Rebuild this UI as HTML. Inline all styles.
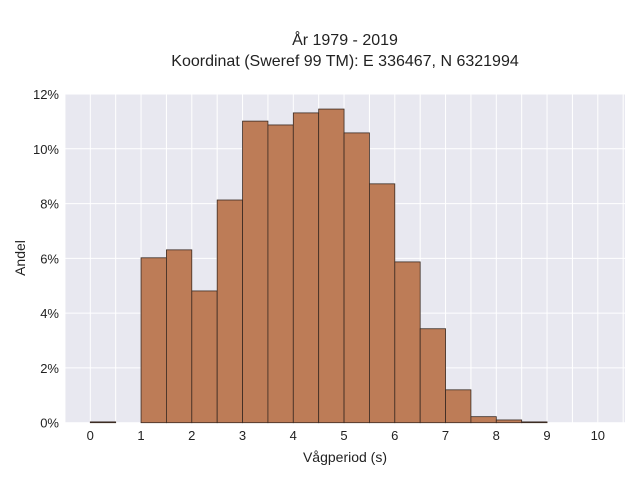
<!DOCTYPE html>
<html><head><meta charset="utf-8"><style>
body{margin:0;background:#fff;font-family:"Liberation Sans",sans-serif;}
</style></head><body>
<svg id="c" width="640" height="480" xmlns="http://www.w3.org/2000/svg">
<rect x="0" y="0" width="640" height="480" fill="#fff"/>
<text x="345" y="45" text-anchor="middle" font-size="16" fill="#222">År 1979 - 2019</text>
<text x="345" y="66" text-anchor="middle" font-size="16" fill="#222">Koordinat (Sweref 99 TM): E 336467, N 6321994</text>
<rect x="65" y="94" width="560" height="329" fill="#e8e8f0"/>
<g id="grid"></g><g id="bars"></g><g id="ticks"></g>
<text x="345" y="462" text-anchor="middle" font-size="14" fill="#222">Vågperiod (s)</text>
<text transform="translate(25,258) rotate(-90)" text-anchor="middle" font-size="14" fill="#222">Andel</text>
</svg>
<script>
const binStarts=[0,0.5,1,1.5,2,2.5,3,3.5,4,4.5,5,5.5,6,6.5,7,7.5,8,8.5,9,9.5];
const binValues=[0.03,0,6.02,6.31,4.81,8.13,11.01,10.87,11.31,11.45,10.58,8.72,5.87,3.43,1.2,0.22,0.1,0.03,0,0];
const xTicks=[0,1,2,3,4,5,6,7,8,9,10];
const yTicks=[0,2,4,6,8,10,12];
const binWidth=0.5;
const NS="http://www.w3.org/2000/svg";
const x=v=>90.3+v*50.75;
const y=v=>422.7-v*(328.7/12);
const grid=document.getElementById('grid'),bars=document.getElementById('bars'),ticks=document.getElementById('ticks');
function mk(tag,attrs,parent){const e=document.createElementNS(NS,tag);for(const k in attrs)e.setAttribute(k,attrs[k]);parent.appendChild(e);return e;}
for(let v=-0.5;v<=10.51;v+=0.5){const g=mk('line',{x1:x(v),x2:x(v),y1:94,y2:423,stroke:'#fff','stroke-width':1},grid);

}
yTicks.forEach(t=>{const g=mk('line',{x1:65,x2:625,y1:y(t),y2:y(t),stroke:'#fff','stroke-width':1},grid);


const l=mk('text',{x:59,y:y(t)+5,'text-anchor':'end','font-size':13,fill:'#222'},ticks);l.textContent=t+'%';

});
xTicks.forEach(t=>{const l=mk('text',{x:x(t),y:440,'text-anchor':'middle','font-size':13,fill:'#222'},ticks);l.textContent=t;

});
binStarts.forEach((s,i)=>{const v=binValues[i];if(v<=0)return;
const r=mk('rect',{x:x(s),y:y(v),width:x(s+binWidth)-x(s),height:y(0)-y(v),fill:'#bd7c57',stroke:'#3a2a22','stroke-width':0.8},bars);

});
</script>
</body></html>
